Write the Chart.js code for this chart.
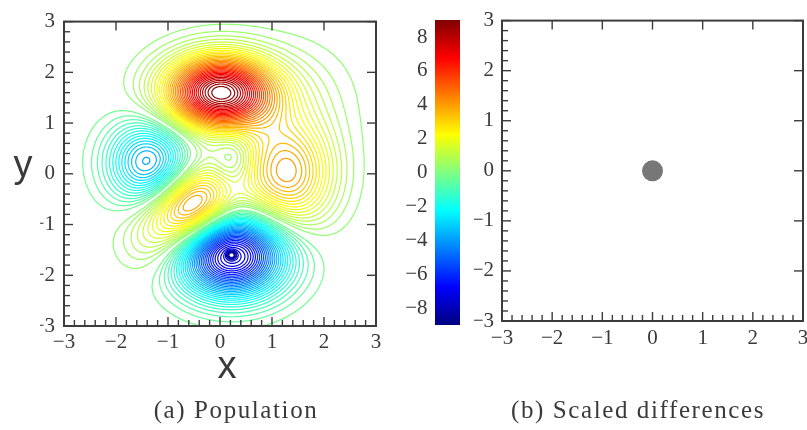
<!DOCTYPE html>
<html><head><meta charset="utf-8">
<script src="https://cdn.jsdelivr.net/npm/chart.js@4.4.1/dist/chart.umd.min.js"></script>
<style>
html,body{margin:0;padding:0;background:#fff;width:807px;height:430px;overflow:hidden;position:relative}
canvas{position:absolute;top:0}
.lbl{position:absolute;color:#3a3a3a;white-space:nowrap;line-height:1}
.sans{font-family:"Liberation Sans",Arial,sans-serif;font-size:38px}
.cap{font-family:"Liberation Serif",serif;font-size:25px;letter-spacing:1.6px;text-align:center;width:400px}
</style></head><body>
<canvas id="cC" width="70" height="430" style="left:395px"></canvas>
<canvas id="cA" width="400" height="430" style="left:0px"></canvas>
<canvas id="cB" width="384" height="430" style="left:446px"></canvas>
<div class="lbl sans" style="left:227px;top:346px;transform:translateX(-50%)">x</div>
<div class="lbl sans" style="left:23px;top:145px;transform:translateX(-50%)">y</div>
<div class="lbl cap" style="left:36px;top:397px">(a) Population</div>
<div class="lbl cap" style="left:438px;top:397px">(b) Scaled differences</div>
<script>
// ---------- data ----------
// Population field, described as lobes (centre, amplitude, widths, rotation in degrees, profile exponent)
//               red    blue   spike   cyan   right  lowleft dimple tongue halo
const lobeX   = [0.00,  0.22,  0.22,  -1.37,  1.28,  -0.55,  0.25, -1.35,  1.50];
const lobeY   = [1.60, -1.60, -1.60,   0.22,  0.00,  -0.68,  0.25, -1.40,  1.50];
const lobeAmp = [8.9,  -8.0,  -1.6,   -4.0,   4.1,    5.3,  -1.3,   0.7,   0.6];
const lobeSX  = [0.72,  0.72,  0.06,   0.54,  0.62,   0.62,  0.28,  0.45,  0.75];
const lobeSY  = [0.50,  0.56,  0.055,  0.56,  0.74,   0.48,  0.42,  0.45,  0.75];
const lobeRot = [0,     0,     0,      0,     0,      40,    0,     0,     0];
const lobePow = [2,     2,     2,      2,     2,      2,     2,     2,     2];
// contour level spacing and colour range
const levelStep = 0.25;
const colorMin = -9, colorMax = 9;
// axis ticks
const axisTicks = [-3, -2, -1, 0, 1, 2, 3];
const colorbarTicks = [-8, -6, -4, -2, 0, 2, 4, 6, 8];
// scaled differences panel
const diffX = [0];
const diffY = [0];

// ---------- helpers ----------
function jet(t) {
  t = Math.max(0, Math.min(1, t));
  const c = v => Math.round(255 * Math.max(0, Math.min(1, v)));
  return `rgb(${c(1.5 - Math.abs(4 * t - 3))},${c(1.5 - Math.abs(4 * t - 2))},${c(1.5 - Math.abs(4 * t - 1))})`;
}
function fieldAt(x, y) {
  let v = 0;
  for (let k = 0; k < lobeX.length; k++) {
    const dx = x - lobeX[k], dy = y - lobeY[k];
    const th = lobeRot[k] * Math.PI / 180, c = Math.cos(th), s = Math.sin(th);
    const u = dx * c + dy * s, w = -dx * s + dy * c;
    const r2 = u * u / (lobeSX[k] * lobeSX[k]) + w * w / (lobeSY[k] * lobeSY[k]);
    v += lobeAmp[k] * Math.exp(-0.5 * Math.pow(r2, lobePow[k] / 2));
  }
  return v;
}
const N = 301, G0 = -3, G1 = 3, H = (G1 - G0) / (N - 1);
const F = new Float64Array(N * N);
for (let j = 0; j < N; j++) for (let i = 0; i < N; i++) F[j * N + i] = fieldAt(G0 + i * H, G0 + j * H);

function edgePoint(e, L) {
  const k = e >> 1;
  const i = k % N, j = (k - i) / N;
  if ((e & 1) === 0) {
    const t = (L - F[k]) / (F[k + 1] - F[k]);
    return { x: G0 + (i + t) * H, y: G0 + j * H };
  }
  const t = (L - F[k]) / (F[k + N] - F[k]);
  return { x: G0 + i * H, y: G0 + (j + t) * H };
}
function contour(L) {
  const A = [], B = [];
  const add = (a, b) => { A.push(a); B.push(b); };
  for (let j = 0; j < N - 1; j++) {
    for (let i = 0; i < N - 1; i++) {
      const k = j * N + i;
      const v00 = F[k], v10 = F[k + 1], v01 = F[k + N], v11 = F[k + N + 1];
      const idx = (v00 > L ? 1 : 0) | (v10 > L ? 2 : 0) | (v11 > L ? 4 : 0) | (v01 > L ? 8 : 0);
      if (idx === 0 || idx === 15) continue;
      const eB = k * 2, eT = (k + N) * 2, eL = k * 2 + 1, eR = (k + 1) * 2 + 1;
      const ctr = (v00 + v10 + v01 + v11) / 4 > L;
      switch (idx) {
        case 1: case 14: add(eL, eB); break;
        case 2: case 13: add(eB, eR); break;
        case 3: case 12: add(eL, eR); break;
        case 4: case 11: add(eR, eT); break;
        case 6: case 9: add(eB, eT); break;
        case 7: case 8: add(eL, eT); break;
        case 5: if (ctr) { add(eL, eT); add(eB, eR); } else { add(eL, eB); add(eR, eT); } break;
        case 10: if (ctr) { add(eL, eB); add(eR, eT); } else { add(eB, eR); add(eL, eT); } break;
      }
    }
  }
  const m = new Map();
  for (let s = 0; s < A.length; s++) {
    for (const e of [A[s], B[s]]) { const l = m.get(e); if (l) l.push(s); else m.set(e, [s]); }
  }
  const used = new Uint8Array(A.length);
  const walk = (start) => {
    const out = []; let cur = start;
    for (;;) {
      const l = m.get(cur); let nx = -1;
      for (const t of l) if (!used[t]) { nx = t; break; }
      if (nx < 0) break;
      used[nx] = 1; cur = A[nx] === cur ? B[nx] : A[nx]; out.push(cur);
    }
    return out;
  };
  const pts = [];
  for (let s = 0; s < A.length; s++) {
    if (used[s]) continue;
    used[s] = 1;
    const fwd = walk(B[s]);
    const back = walk(A[s]).reverse();
    const chainIds = back.concat([A[s], B[s]], fwd);
    for (const e of chainIds) pts.push(edgePoint(e, L));
    pts.push({ x: NaN, y: NaN });
  }
  return pts;
}

const levels = [];
for (let n = Math.ceil(colorMin / levelStep) + 1; n <= Math.floor(colorMax / levelStep) - 1; n++) {
  if (n !== 0) levels.push(n * levelStep);
}
const contourDatasets = levels.map(L => ({
  data: contour(L),
  borderColor: jet((L - colorMin) / (colorMax - colorMin)),
  borderWidth: 1.2,
  showLine: true,
  pointRadius: 0,
  tension: 0.0001,
  spanGaps: false,
  fill: false
}));

// ---------- plugins ----------
const fmt = v => (v < 0 ? '\u2212' + Math.abs(v) : String(v));
const framePlugin = {
  id: 'frame',
  afterDatasetsDraw(chart, args, o) {
    if (!o || !o.on) return;
    const { ctx, chartArea: a } = chart;
    const xs = chart.scales.x, ys = chart.scales.y;
    ctx.save();
    ctx.strokeStyle = '#3c3c3c';
    ctx.lineWidth = 1.4;
    const line = (x1, y1, x2, y2) => { ctx.beginPath(); ctx.moveTo(x1, y1); ctx.lineTo(x2, y2); ctx.stroke(); };
    const majors = axisTicks;
    for (const v of majors) {
      const px = xs.getPixelForValue(v), py = ys.getPixelForValue(v);
      line(px, a.bottom, px, a.bottom - o.major);
      line(px, a.top, px, a.top + o.major);
      line(a.left, py, a.left + o.major, py);
      line(a.right, py, a.right - o.major, py);
    }
    for (let n = 0; n < majors.length - 1; n++) {
      for (let q = 1; q < o.minorCount; q++) {
        const v = majors[n] + q * (majors[n + 1] - majors[n]) / o.minorCount;
        const px = xs.getPixelForValue(v), py = ys.getPixelForValue(v);
        line(px, a.bottom, px, a.bottom - o.minor);
        line(a.left, py, a.left + o.minor, py);
      }
    }
    ctx.lineWidth = 2;
    ctx.strokeRect(a.left, a.top, a.right - a.left, a.bottom - a.top);
    ctx.restore();
  }
};

const tickFont = { family: '"Liberation Serif", serif', size: 21 };
const tickColor = '#3a3a3a';
function axis(min, max, pos, pad, fit) {
  return {
    type: 'linear', min, max, position: pos,
    afterBuildTicks: s => { s.ticks = axisTicks.map(v => ({ value: v })); },
    ticks: { font: tickFont, color: tickColor, padding: pad, callback: fmt, maxRotation: 0, autoSkip: false },
    grid: { display: false, drawTicks: false },
    border: { display: false },
    afterFit: fit
  };
}

// ---------- (a) population contours ----------
new Chart(document.getElementById('cA'), {
  type: 'scatter',
  data: { datasets: contourDatasets },
  options: {
    responsive: false, animation: false, events: [], parsing: false, normalized: true,
    layout: { padding: { left: 40, right: 24, top: 16, bottom: 74 } },
    plugins: { legend: { display: false }, tooltip: { enabled: false },
      frame: { on: true, major: 9, minor: 6, minorCount: 5 } },
    scales: {
      x: axis(-3, 3, 'bottom', 4, s => { s.height = 30; }),
      y: axis(-3, 3, 'left', 9, s => { s.width = 24; })
    }
  },
  plugins: [framePlugin]
});

// ---------- colour bar ----------
new Chart(document.getElementById('cC'), {
  type: 'bar',
  data: { labels: [''], datasets: [{
    data: [[colorMin, colorMax]],
    borderWidth: 0,
    barPercentage: 1, categoryPercentage: 1,
    backgroundColor: (c) => {
      const a = c.chart.chartArea; if (!a) return '#888';
      const ys = c.chart.scales.y;
      const g = c.chart.ctx.createLinearGradient(0, ys.getPixelForValue(colorMin), 0, ys.getPixelForValue(colorMax));
      for (let k = 0; k <= 72; k++) g.addColorStop(k / 72, jet(k / 72));
      return g;
    }
  }] },
  options: {
    responsive: false, animation: false, events: [],
    layout: { padding: { left: 0, right: 5, top: 16, bottom: 105 } },
    plugins: { legend: { display: false }, tooltip: { enabled: false } },
    scales: {
      x: { display: false },
      y: {
        min: colorMin, max: colorMax, z: 1,
        afterBuildTicks: s => { s.ticks = colorbarTicks.map(v => ({ value: v })); },
        ticks: { font: tickFont, color: tickColor, padding: 7.5, callback: fmt },
        grid: { drawOnChartArea: true, drawTicks: false, color: '#3c3c3c', lineWidth: 1.2 },
        border: { display: false },
        afterFit: s => { s.width = 40; }
      }
    }
  }
});

// ---------- (b) scaled differences ----------
new Chart(document.getElementById('cB'), {
  type: 'scatter',
  data: { datasets: [{
    data: diffX.map((x, i) => ({ x, y: diffY[i] })),
    pointRadius: 10.5, pointBackgroundColor: '#777777', pointBorderWidth: 0, pointBorderColor: '#777777'
  }] },
  options: {
    responsive: false, animation: false, events: [],
    layout: { padding: { left: 28, right: 27, top: 20, bottom: 79 } },
    plugins: { legend: { display: false }, tooltip: { enabled: false },
      frame: { on: true, major: 9, minor: 6, minorCount: 5 } },
    scales: {
      x: axis(-3, 3, 'bottom', 5, s => { s.height = 30; }),
      y: axis(-3, 3, 'left', 8, s => { s.width = 28; })
    }
  },
  plugins: [framePlugin]
});
</script>
</body></html>
